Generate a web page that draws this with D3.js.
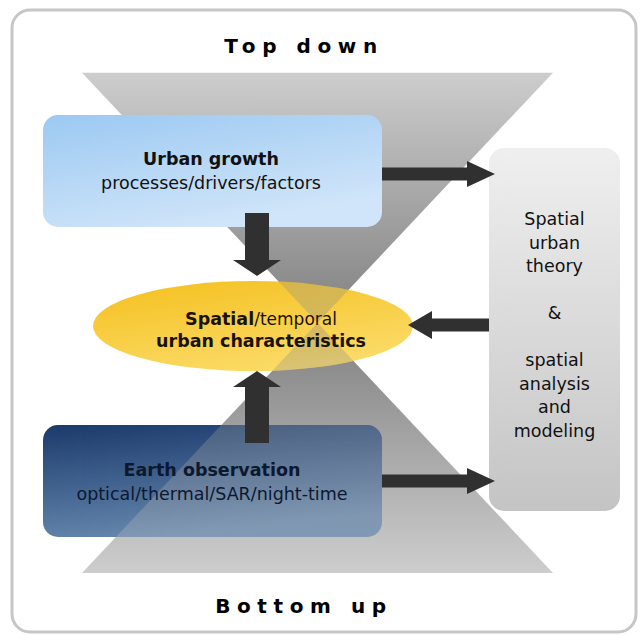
<!DOCTYPE html>
<html>
<head>
<meta charset="utf-8">
<script src="https://cdn.jsdelivr.net/npm/d3@7"></script>
<style>
  body { margin: 0; background: #fff; }
  svg text { font-family: "DejaVu Sans", Verdana, sans-serif; }
</style>
</head>
<body>
<script>
// text content of the diagram
const titles = ['Top down', 'Bottom up'];
const growthLines = ['Urban growth', 'processes/drivers/factors'];
const eoLines = ['Earth observation', 'optical/thermal/SAR/night-time'];
const centreLine1 = ['Spatial', '/temporal'];
const centreLine2 = 'urban characteristics';
const theoryLines = ['Spatial', 'urban', 'theory', '', '&', '', 'spatial', 'analysis', 'and', 'modeling'];

const W = 644, H = 635;

const svg = d3.select('body').append('svg')
  .attr('width', W)
  .attr('height', H);

const defs = svg.append('defs');

function linGrad(id, stops, x2 = 0, y2 = 1) {
  const g = defs.append('linearGradient')
    .attr('id', id)
    .attr('x1', 0).attr('y1', 0).attr('x2', x2).attr('y2', y2);
  stops.forEach(s => g.append('stop').attr('offset', s[0]).attr('stop-color', s[1]));
}
linGrad('gTop', [[0, '#cdcdcd'], [1, '#808080']]);
linGrad('gBot', [[0, '#808080'], [1, '#cdcdcd']]);
linGrad('gGrowth', [[0, '#9cc9f2'], [1, '#d0e5f9']], 0.5, 1);
linGrad('gEo', [[0, '#1b3a6c'], [1, '#6587ad']], 0.3, 1);
linGrad('gTheory', [[0, '#efefef'], [1, '#c4c4c4']]);
linGrad('gYellow', [[0, '#f4c01f'], [1, '#fbda66']], 0.5, 1);

// layout
const hg = { left: 82, right: 553, top: 72.7, bottom: 573 };
const apex = [(hg.left + hg.right) / 2, (hg.top + hg.bottom) / 2];
const growth = { x: 43, y: 115, w: 339, h: 112 };
const eo = { x: 43, y: 425, w: 339, h: 112 };
const theory = { x: 489, y: 148, w: 131, h: 363 };
const ell = { cx: 253, cy: 326, rx: 160, ry: 45 };

// outer frame
svg.append('rect')
  .attr('x', 12).attr('y', 10)
  .attr('width', 624).attr('height', 622)
  .attr('rx', 18)
  .attr('fill', '#fff')
  .attr('stroke', '#c6c6c6')
  .attr('stroke-width', 3);

// hourglass
const topTri = [[hg.left, hg.top], [hg.right, hg.top], apex];
const botTri = [[hg.left, hg.bottom], [hg.right, hg.bottom], apex];
const line = d3.line();

function hourglass(g) {
  g.append('path').attr('d', line(topTri) + 'Z').attr('fill', 'url(#gTop)');
  g.append('path').attr('d', line(botTri) + 'Z').attr('fill', 'url(#gBot)');
}
hourglass(svg.append('g'));

// boxes
function box(b, fill) {
  svg.append('rect')
    .attr('x', b.x).attr('y', b.y)
    .attr('width', b.w).attr('height', b.h)
    .attr('rx', 15)
    .attr('fill', fill);
}
box(growth, 'url(#gGrowth)');
box(eo, 'url(#gEo)');
box(theory, 'url(#gTheory)');

svg.append('ellipse')
  .attr('cx', ell.cx).attr('cy', ell.cy)
  .attr('rx', ell.rx).attr('ry', ell.ry)
  .attr('fill', 'url(#gYellow)');

// translucent hourglass showing through the ellipse and the EO box
const clip = defs.append('clipPath').attr('id', 'overClip');
clip.append('ellipse')
  .attr('cx', ell.cx).attr('cy', ell.cy)
  .attr('rx', ell.rx).attr('ry', ell.ry);
clip.append('rect')
  .attr('x', eo.x).attr('y', eo.y)
  .attr('width', eo.w).attr('height', eo.h)
  .attr('rx', 15);
hourglass(svg.append('g').attr('clip-path', 'url(#overClip)').attr('opacity', 0.3));

// arrows
function hArrow(x0, x1, y, sw, hw, hl) {
  const d = Math.sign(x1 - x0);
  const xb = x1 - d * hl;
  return [[x0, y - sw], [xb, y - sw], [xb, y - hw], [x1, y], [xb, y + hw], [xb, y + sw], [x0, y + sw]];
}
function vArrow(y0, y1, x, sw, hw, hl) {
  return hArrow(y0, y1, x, sw, hw, hl).map(p => [p[1], p[0]]);
}
const arrows = [
  hArrow(growth.x + growth.w, 495, 174, 6.5, 13, 28),
  hArrow(eo.x + eo.w, 495, 481, 6.5, 13, 28),
  hArrow(theory.x, 408, 325, 6.5, 14, 24),
  vArrow(213, 276, 257, 12, 24, 16),
  vArrow(443, 371, 257, 12, 24, 16),
];
svg.append('g').selectAll('path')
  .data(arrows)
  .join('path')
  .attr('d', d => line(d) + 'Z')
  .attr('fill', '#303030');

// titles
[[titles[0], 53], [titles[1], 613]].forEach(([t, y]) => {
  svg.append('text')
    .attr('x', 304).attr('y', y)
    .attr('text-anchor', 'middle')
    .attr('font-weight', 'bold')
    .attr('font-size', 20)
    .attr('letter-spacing', '0.33em')
    .attr('fill', '#000')
    .text(t);
});

// box texts
function twoLines(cx, y1, y2, lines, color) {
  svg.append('text')
    .attr('x', cx).attr('y', y1)
    .attr('text-anchor', 'middle')
    .attr('font-weight', 'bold')
    .attr('font-size', 17.5)
    .attr('fill', color)
    .text(lines[0]);
  svg.append('text')
    .attr('x', cx).attr('y', y2)
    .attr('text-anchor', 'middle')
    .attr('font-size', 17.5)
    .attr('fill', color)
    .text(lines[1]);
}
twoLines(211, 165, 189, growthLines, '#111');
twoLines(212, 476, 500, eoLines, '#0c1830');

const t1 = svg.append('text')
  .attr('x', 261).attr('y', 325)
  .attr('text-anchor', 'middle')
  .attr('font-size', 17)
  .attr('fill', '#1a1200');
t1.append('tspan').attr('font-weight', 'bold').attr('font-size', 17.5).text(centreLine1[0]);
t1.append('tspan').text(centreLine1[1]);
svg.append('text')
  .attr('x', 261).attr('y', 347)
  .attr('text-anchor', 'middle')
  .attr('font-weight', 'bold')
  .attr('font-size', 17.5)
  .attr('fill', '#1a1200')
  .text(centreLine2);

const yLine = d3.scaleLinear().domain([0, theoryLines.length - 1]).range([225, 437]);
svg.append('g').selectAll('text')
  .data(theoryLines)
  .join('text')
  .attr('x', theory.x + theory.w / 2)
  .attr('y', (d, i) => yLine(i))
  .attr('text-anchor', 'middle')
  .attr('font-size', 17.5)
  .attr('fill', '#111')
  .text(d => d);
</script>
</body>
</html>
